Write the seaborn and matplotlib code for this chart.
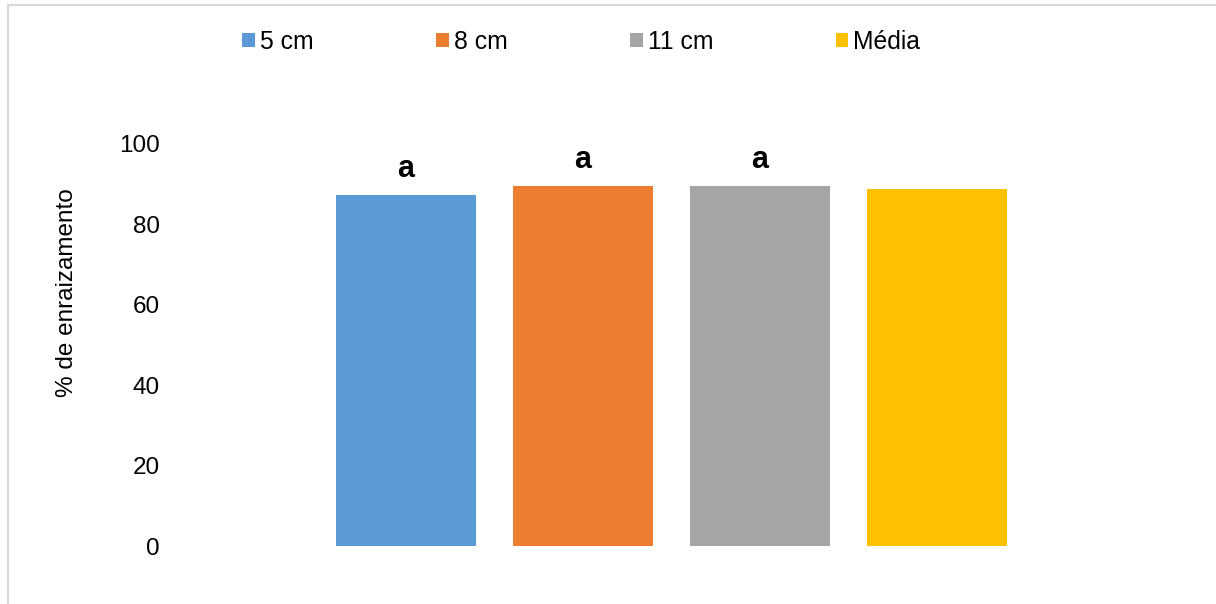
import matplotlib
matplotlib.use("Agg")
import matplotlib.pyplot as plt
from matplotlib.patches import Patch
from matplotlib.lines import Line2D
import seaborn as sns
import pandas as pd

# Rooting percentage by cutting length
categories = ["5 cm", "8 cm", "11 cm", "Média"]
rooting = [87.3, 89.6, 89.6, 88.8]
letters = ["a", "a", "a", ""]
colors = ["#5B9BD5", "#ED7D31", "#A5A5A5", "#FFC000"]
yticks = [0, 20, 40, 60, 80, 100]

sns.set_style("white")
plt.rcParams["font.family"] = ["Liberation Sans", "DejaVu Sans"]
plt.rcParams["text.color"] = "black"
plt.rcParams["axes.labelcolor"] = "black"
plt.rcParams["ytick.color"] = "black"
plt.rcParams["xtick.color"] = "black"

df = pd.DataFrame({"comprimento": categories, "enraizamento": rooting})

fig = plt.figure(figsize=(12.16, 6.04), dpi=100)
ax = fig.add_axes([0.1439, 0.096, 0.8166, 0.6656])

sns.barplot(data=df, x="comprimento", y="enraizamento", hue="comprimento",
            palette=colors, order=categories, hue_order=categories,
            width=0.79, legend=False, ax=ax, saturation=1, linewidth=0)

for i, (v, lab) in enumerate(zip(rooting, letters)):
    if lab:
        ax.annotate(lab, xy=(i, v), xytext=(0, 13), textcoords="offset points",
                    ha="center", va="baseline", fontsize=22, fontweight="bold",
                    color="black")

ax.set_ylim(0, 100)
ax.set_xlim(-1.305, 4.305)
ax.set_yticks(yticks)
ax.set_yticklabels([str(t) for t in yticks], fontsize=17.5)
ax.tick_params(axis="y", length=0, pad=11)
ax.set_xticks([])
ax.set_xlabel("")
ax.set_ylabel("% de enraizamento", fontsize=17.5, labelpad=0)
ax.yaxis.set_label_coords(-0.098, 0.63)
for s in ax.spines.values():
    s.set_visible(False)
ax.grid(False)

handles = [Patch(facecolor=c, edgecolor="none", label=l) for c, l in zip(colors, categories)]
fig.legend(handles=handles, loc="center", bbox_to_anchor=(0.478, 0.931), ncol=4,
           frameon=False, fontsize=17.8, handlelength=0.52, handleheight=0.52,
           handletextpad=0.2, columnspacing=4.95, borderpad=0)

# Chart frame (left and top edges)
frame_col = "#D9D9D9"
fig.add_artist(Line2D([8 / 1216, 8 / 1216], [0, 1 - 5 / 604], color=frame_col, lw=1.6,
                      transform=fig.transFigure))
fig.add_artist(Line2D([8 / 1216, 1], [1 - 5 / 604, 1 - 5 / 604], color=frame_col, lw=1.6,
                      transform=fig.transFigure))

fig.savefig("out.png", dpi=100, facecolor="white")
